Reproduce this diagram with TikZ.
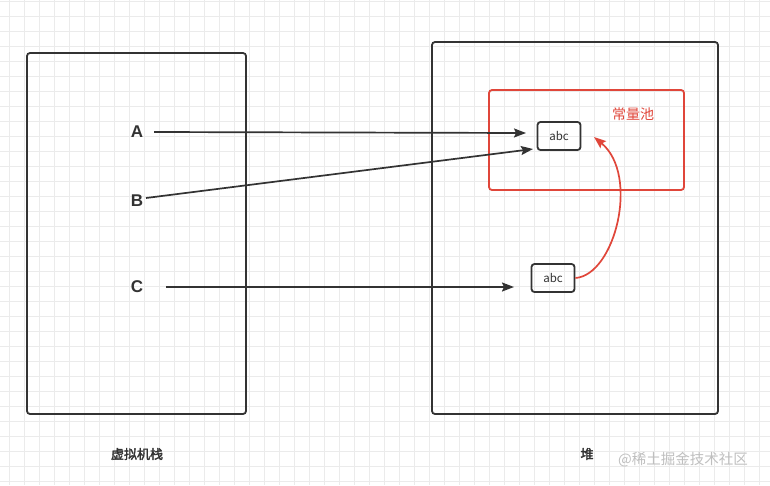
\documentclass[tikz,border=0pt]{standalone}
\usepackage{fontspec}
\setmainfont{Liberation Sans}
\newfontfamily\cjk{Noto Sans CJK SC}
\newfontfamily\cjkb[AutoFakeBold=2.5]{Noto Sans CJK SC}
\usetikzlibrary{arrows.meta}
\definecolor{dk}{HTML}{333333}
\definecolor{rd}{HTML}{E0463A}
\definecolor{gridc}{HTML}{EBEBEB}
\tikzset{
  panel/.style={draw=dk, line width=1.8pt, rounded corners=3pt},
  pool/.style={draw=rd, line width=1.8pt, rounded corners=3pt},
  strbox/.style={draw=dk, line width=1.8pt, rounded corners=3pt, minimum width=43pt, minimum height=28pt, inner sep=0pt, font=\cjk\fontsize{11.5}{13}\selectfont, text=dk},
  varlbl/.style={font=\bfseries\fontsize{17}{19}\selectfont, text=dk},
  caption/.style={font=\cjkb\bfseries\fontsize{13}{15}\selectfont, text=dk},
  ref/.style={-{Stealth[length=12pt,width=9pt,inset=2pt]}, draw=dk, line width=1.7pt},
  redref/.style={-{Stealth[length=12pt,width=9pt,inset=2pt]}, draw=rd, line width=1.7pt}
}
\begin{document}
\begin{tikzpicture}[x=1pt,y=-1pt]
\useasboundingbox (0,0) rectangle (770,485);
\fill[white] (0,0) rectangle (770,485);
\foreach \i in {0,...,51} {\draw[gridc, line width=0.7pt] (9+15*\i,0) -- (9+15*\i,485);}
\foreach \j in {0,...,32} {\draw[gridc, line width=0.7pt] (0,1+15*\j) -- (770,1+15*\j);}
% panels
\draw[panel] (27,53) rectangle (246,414);
\draw[panel] (432,42) rectangle (718,414);
\draw[pool] (489,90) rectangle (684,190);
\node[font=\cjk\fontsize{14}{16}\selectfont, text=rd] (pooltitle) at (633,114) {常量池};
% string objects
\node[strbox] (s1) at (559,136) {abc};
\node[strbox] (s2) at (553,278) {abc};
% variable labels
\node[varlbl] (A) at (137,132) {A};
\node[varlbl] (B) at (137,201) {B};
\node[varlbl] (C) at (137,287) {C};
\coordinate (aend) at (526,133);
\coordinate (bend) at (533,149);
\coordinate (cend) at (514,287);
\draw[ref] (154,132) -- (aend);
\draw[ref] (146,198) -- (bend);
\draw[ref] (166,287) -- (cend);
\draw[redref] (s2.east) .. controls (615,275) and (640,175) .. (594,137);
% captions
\node[caption] (stack) at (137,454) {虚拟机栈};
\node[caption] (heap) at (587,454) {堆};
\node[font=\cjk\fontsize{14.5}{16}\selectfont, text=black!25] (wm) at (683,460) {@稀土掘金技术社区};
\end{tikzpicture}
\end{document}
